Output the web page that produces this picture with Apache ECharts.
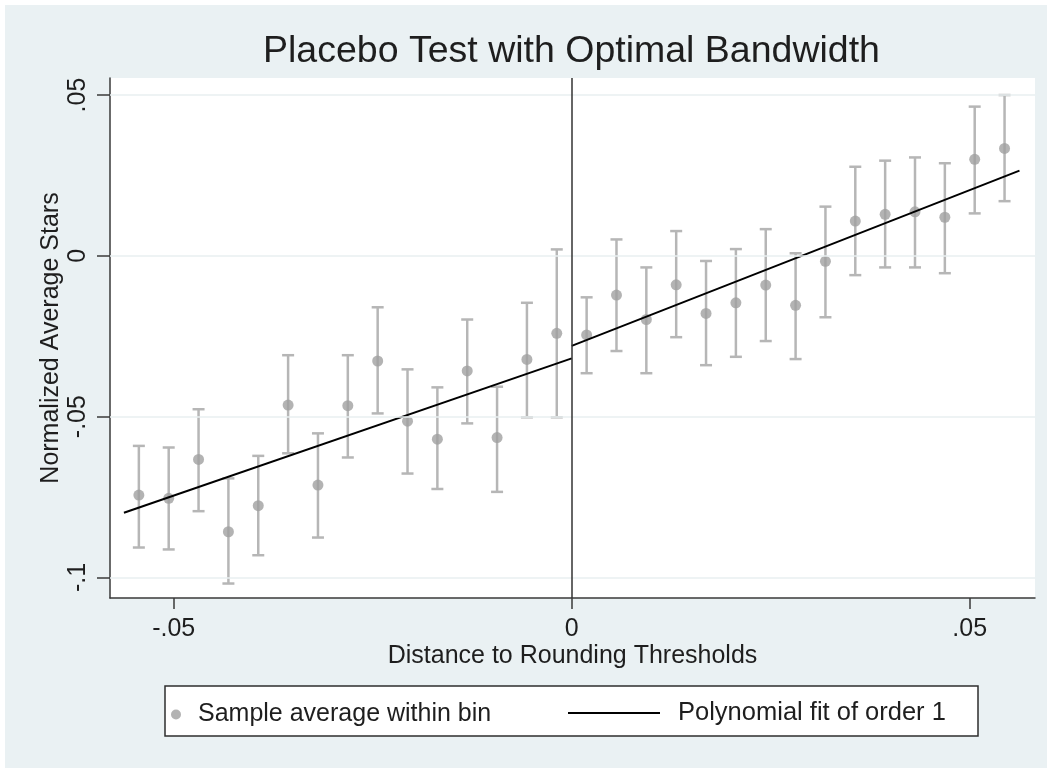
<!DOCTYPE html>
<html>
<head>
<meta charset="utf-8">
<script src="https://cdn.jsdelivr.net/npm/echarts@6/dist/echarts.min.js"></script>
<style>
  html, body { margin: 0; padding: 0; background: #ffffff; }
  #chart { width: 1047px; height: 770px; }
</style>
</head>
<body>
<div id="chart"></div>
<script>
// Bin centres (distance to rounding threshold) and the bin averages with 95% CI bounds
const binCenters = [
  -0.054375, -0.050625, -0.046875, -0.043125, -0.039375, -0.035625, -0.031875, -0.028125,
  -0.024375, -0.020625, -0.016875, -0.013125, -0.009375, -0.005625, -0.001875,
   0.001875,  0.005625,  0.009375,  0.013125,  0.016875,  0.020625,  0.024375,  0.028125,
   0.031875,  0.035625,  0.039375,  0.043125,  0.046875,  0.050625,  0.054375
];
const binMeans = [
  -0.0744, -0.0754, -0.0633, -0.0858, -0.0777, -0.0464, -0.0713, -0.0466,
  -0.0327, -0.0514, -0.0570, -0.0358, -0.0565, -0.0322, -0.0241,
  -0.0246, -0.0122, -0.0198, -0.0090, -0.0179, -0.0146, -0.0091, -0.0154,
  -0.0017,  0.0108,  0.0129,  0.0137,  0.0120,  0.0300,  0.0334
];
const ciLower = [
  -0.0907, -0.0913, -0.0794, -0.1019, -0.0931, -0.0614, -0.0876, -0.0627,
  -0.0490, -0.0677, -0.0725, -0.0521, -0.0734, -0.0502, -0.0502,
  -0.0365, -0.0296, -0.0365, -0.0253, -0.0340, -0.0314, -0.0265, -0.0321,
  -0.0191, -0.0060, -0.0036, -0.0036, -0.0054,  0.0132,  0.0170
];
const ciUpper = [
  -0.0591, -0.0596, -0.0477, -0.0692, -0.0622, -0.0309, -0.0552, -0.0309,
  -0.0160, -0.0353, -0.0409, -0.0198, -0.0407, -0.0146,  0.0020,
  -0.0129,  0.0051, -0.0036,  0.0077, -0.0016,  0.0021,  0.0083,  0.0008,
   0.0153,  0.0277,  0.0296,  0.0306,  0.0288,  0.0464,  0.0500
];

// Linear fits on each side of the threshold: [x, y] end points
const fitLeft  = [[-0.05625, -0.0799], [0, -0.0319]];
const fitRight = [[0, -0.0280], [0.05625, 0.0265]];

// Axis ticks and their printed labels
const xTickValues = [-0.05, 0, 0.05];
const xTickLabels = ['-.05', '0', '.05'];
const yTickValues = [-0.1, -0.05, 0, 0.05];
const yTickLabels = ['-.1', '-.05', '0', '.05'];

const titleText = 'Placebo Test with Optimal Bandwidth';
const xTitle = 'Distance to Rounding Thresholds';
const yTitle = 'Normalized Average Stars';
const pointName = 'Sample average within bin';
const fitName = 'Polynomial fit of order 1';

const FONT = 'Liberation Sans, Arial, Helvetica, sans-serif';
const TEXT = '#1e1e1e';
const AXIS = '#3a3a3a';
const BAR_COLOR = '#b6b6b6';
const DOT_COLOR = '#a0a0a0';

function lookupLabel(values, labels) {
  return function (v) {
    for (let i = 0; i < values.length; i++) {
      if (Math.abs(values[i] - v) < 1e-9) return labels[i];
    }
    return '';
  };
}

const pointData = binCenters.map((x, i) => [x, binMeans[i]]);
const ciData = binCenters.map((x, i) => [x, ciLower[i], ciUpper[i]]);

const chart = echarts.init(document.getElementById('chart'), null, { renderer: 'canvas' });

chart.setOption({
  animation: false,
  backgroundColor: 'transparent',
  textStyle: { fontFamily: FONT },
  title: {
    text: titleText,
    left: 258,
    top: 28,
    textStyle: { fontFamily: FONT, fontSize: 37.5, fontWeight: 'normal', color: TEXT }
  },
  graphic: [
    {
      type: 'rect', z: -20, silent: true,
      shape: { x: 5, y: 5, width: 1042, height: 763 },
      style: { fill: '#eaf1f3' }
    },
    {
      type: 'rect', z: -5, silent: true,
      shape: { x: 165, y: 686, width: 813, height: 50 },
      style: { fill: '#ffffff', stroke: '#2e2e2e', lineWidth: 1.5 }
    }
  ],
  legend: [
    {
      data: [{ name: pointName, icon: 'circle' }],
      left: 166, top: 697,
      itemWidth: 30, itemHeight: 10,
      textStyle: { fontFamily: FONT, fontSize: 25, color: TEXT, padding: [0, 0, 0, 2] },
      selectedMode: false
    },
    {
      data: [{ name: fitName, icon: 'rect' }],
      left: 563, top: 695,
      itemWidth: 92, itemHeight: 2,
      textStyle: { fontFamily: FONT, fontSize: 25.5, color: TEXT, padding: [0, 0, 0, 13] },
      selectedMode: false
    }
  ],
  grid: {
    left: 110, top: 78, right: 12, bottom: 172,
    show: true, backgroundColor: '#ffffff', borderWidth: 0
  },
  xAxis: {
    type: 'value',
    min: -0.058, max: 0.0582,
    name: xTitle,
    nameLocation: 'middle',
    nameGap: 46,
    nameMoveOverlap: false,
    nameTextStyle: { fontFamily: FONT, fontSize: 25, color: TEXT },
    axisLine: { show: true, onZero: false, lineStyle: { color: AXIS, width: 1.5 } },
    axisTick: { show: true, length: 11, customValues: xTickValues, lineStyle: { color: AXIS, width: 1.5 } },
    axisLabel: {
      customValues: xTickValues,
      formatter: lookupLabel(xTickValues, xTickLabels),
      margin: 19,
      fontFamily: FONT, fontSize: 25, color: TEXT
    },
    splitLine: { show: false }
  },
  yAxis: {
    type: 'value',
    min: -0.1064, max: 0.0553,
    name: yTitle,
    nameLocation: 'middle',
    nameRotate: 90,
    nameGap: 46,
    nameMoveOverlap: false,
    nameTextStyle: { fontFamily: FONT, fontSize: 25, color: TEXT },
    axisLine: { show: true, onZero: false, lineStyle: { color: AXIS, width: 1.5 } },
    axisTick: { show: true, length: 13, customValues: yTickValues, lineStyle: { color: AXIS, width: 1.5 } },
    axisLabel: {
      customValues: yTickValues,
      formatter: lookupLabel(yTickValues, yTickLabels),
      rotate: 90,
      margin: 19,
      fontFamily: FONT, fontSize: 25, color: TEXT
    },
    splitLine: { show: false }
  },
  series: [
    {
      // light horizontal grid lines and the threshold marker
      type: 'line',
      data: [],
      z: 1,
      silent: true,
      markLine: {
        silent: true,
        symbol: 'none',
        label: { show: false },
        animation: false,
        data: yTickValues.map(v => ({ yAxis: v, lineStyle: { color: '#e8eff1', width: 1.5, type: 'solid' } }))
          .concat([{ xAxis: 0, lineStyle: { color: '#333333', width: 1.5, type: 'solid' } }])
      }
    },
    {
      // confidence interval whiskers
      type: 'custom',
      name: 'ci',
      z: 2,
      silent: true,
      data: ciData,
      encode: { x: 0, y: [1, 2] },
      renderItem: function (params, api) {
        const x = api.value(0);
        const lo = api.coord([x, api.value(1)]);
        const hi = api.coord([x, api.value(2)]);
        const cap = 6;
        const style = { stroke: BAR_COLOR, lineWidth: 2.5 };
        return {
          type: 'group',
          children: [
            { type: 'line', shape: { x1: lo[0], y1: lo[1], x2: hi[0], y2: hi[1] }, style: style },
            { type: 'line', shape: { x1: hi[0] - cap, y1: hi[1], x2: hi[0] + cap, y2: hi[1] }, style: style },
            { type: 'line', shape: { x1: lo[0] - cap, y1: lo[1], x2: lo[0] + cap, y2: lo[1] }, style: style }
          ]
        };
      }
    },
    {
      type: 'scatter',
      name: pointName,
      z: 3,
      data: pointData,
      symbol: 'circle',
      symbolSize: 11,
      itemStyle: { color: DOT_COLOR }
    },
    {
      type: 'line',
      name: fitName,
      z: 4,
      data: fitLeft,
      symbol: 'none',
      lineStyle: { color: '#000000', width: 2 },
      itemStyle: { color: '#000000' }
    },
    {
      type: 'line',
      name: fitName,
      z: 4,
      data: fitRight,
      symbol: 'none',
      lineStyle: { color: '#000000', width: 2 },
      itemStyle: { color: '#000000' }
    }
  ]
});
</script>
</body>
</html>
